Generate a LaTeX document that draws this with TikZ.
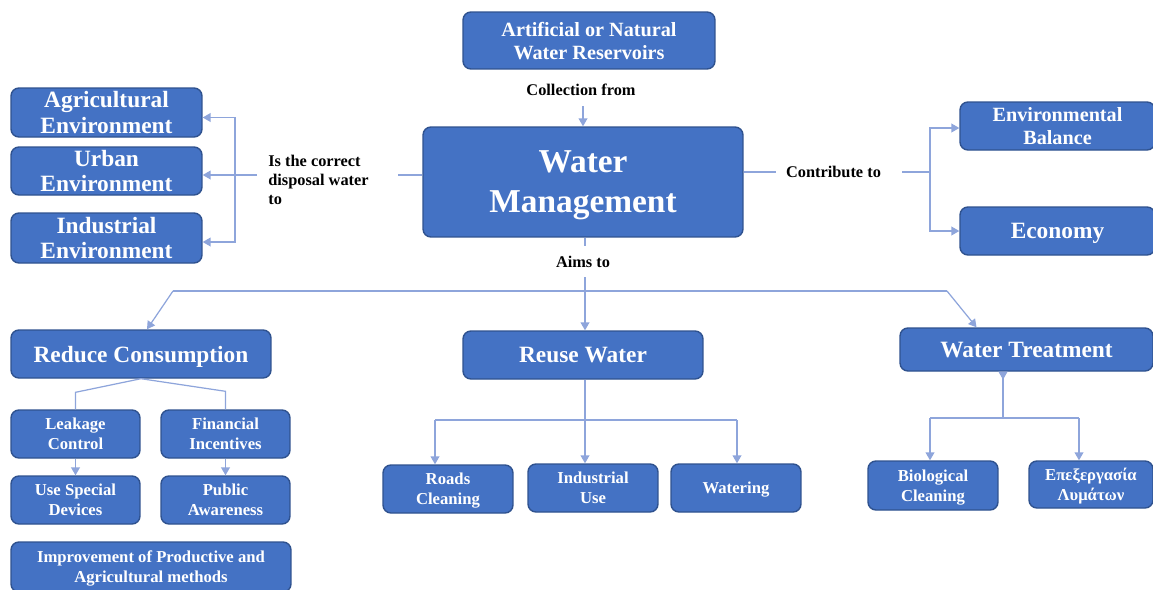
\documentclass[tikz,border=0pt]{standalone}
\usepackage{fontspec}
\setmainfont{Liberation Serif}
\usetikzlibrary{arrows.meta,positioning}
\definecolor{boxblue}{HTML}{4472C4}
\definecolor{boxline}{HTML}{2F528F}
\definecolor{linkblue}{HTML}{8EA5DB}
\tikzset{
    %Define standard arrow tip
    >={Triangle[width=5pt,length=4.5pt]},
    %Define style for boxes
    box/.style={
           rectangle,
           rounded corners=4.5pt,
           draw=boxline, line width=0.8pt,
           fill=boxblue,
           text=white,
           text depth=0pt,
           align=center,
           inner sep=0pt},
    bigbox/.style={
           box,
           font=\fontsize{13.3}{14.5}\selectfont\bfseries},
    midbox/.style={
           box,
           font=\fontsize{11.5}{13.2}\selectfont\bfseries},
    smallbox/.style={
           box,
           minimum width=2.6cm,
           minimum height=0.96cm,
           font=\fontsize{9.5}{11.3}\selectfont\bfseries},
    % Define style for the link texts
    lbl/.style={
           font=\fontsize{9.3}{11}\selectfont\bfseries,
           align=left,
           inner sep=0pt},
    % Define arrow style
    conn/.style={
           draw=linkblue,
           line width=0.7pt},
    arr/.style={
           conn, ->}
}
\begin{document}
\begin{tikzpicture}[x=0.02cm,y=-0.02cm]
\useasboundingbox (0,0) rectangle (1153,589);
% top
\node[midbox, minimum width=5.04cm, minimum height=1.14cm](res) at (589,40.5){Artificial or Natural\\Water Reservoirs};
\node[lbl](collect) at (581,90){Collection from};
\node[box, font=\fontsize{19}{22.7}\selectfont\bfseries, minimum width=6.4cm, minimum height=2.2cm](wm) at (583,182){Water\\Management};
\draw[arr] ([yshift=-0.2cm]collect.south -| wm.north) -- (wm.north);
% left
\node[bigbox, minimum width=3.82cm, minimum height=0.98cm](agri) at (106.5,112.5){Agricultural\\Environment};
\node[bigbox, minimum width=3.82cm, minimum height=0.96cm](urban) at (106.5,171){Urban\\Environment};
\node[bigbox, minimum width=3.82cm, minimum height=1cm](indus) at (106.5,238){Industrial\\Environment};
\node[lbl, anchor=west](disp) at (268,180){Is the correct\\disposal water\\to};
\coordinate (dr) at (398,175);
\coordinate (dl) at (257,175);
\coordinate (bl) at (235,175);
\draw[conn] (wm.west |- dr) -- (dr);
\draw[conn] (dl) -- (bl);
\draw[arr] (bl) |- ([yshift=-0.1cm]agri.east);
\draw[arr] (bl) -- (bl -| urban.east);
\draw[arr] (bl) |- ([yshift=-0.08cm]indus.east);
% right
\node[lbl](contrib) at (833.5,172){Contribute to};
\node[midbox, minimum width=3.9cm, minimum height=0.96cm](envbal) at (1057.5,126){Environmental\\Balance};
\node[bigbox, minimum width=3.9cm, minimum height=0.96cm](econ) at (1057.5,231){Economy};
\coordinate (cl) at (776,172);
\coordinate (cm) at (902,172);
\coordinate (cr) at (930,172);
\draw[conn] (wm.east |- cl) -- (cl);
\draw[conn] (cm) -- (cr);
\draw[arr] (cr) |- ([yshift=-0.04cm]envbal.west);
\draw[arr] (cr) |- (econ.west);
% aims
\node[lbl](aims) at (583,262){Aims to};
\node[bigbox, minimum width=5.2cm, minimum height=0.96cm](reduce) at (141,354){Reduce Consumption};
\node[bigbox, minimum width=4.8cm, minimum height=0.96cm](reuse) at (583,355){Reuse Water};
\node[bigbox, minimum width=5.06cm, minimum height=0.86cm](treat) at (1026.5,349.5){Water Treatment};
\coordinate (at) at (585,246);
\coordinate (ab) at (585,277);
\coordinate (hl) at (173,291);
\coordinate (hr) at (947,291);
\draw[conn] (wm.south -| at) -- (at);
\draw[arr] (ab) -- (ab |- reuse.north);
\draw[conn] (hl) -- (hr);
\draw[arr] (hl) -- ([xshift=0.12cm]reduce.north);
\draw[arr] (hr) -- ([xshift=-1cm]treat.north);
% reduce consumption
\node[smallbox, minimum width=2.58cm](leak) at (75.5,434){Leakage\\Control};
\node[smallbox, minimum width=2.58cm](finan) at (225.5,434){Financial\\Incentives};
\node[smallbox, minimum width=2.58cm](special) at (75.5,500){Use Special\\Devices};
\node[smallbox, minimum width=2.58cm](public) at (225.5,500){Public\\Awareness};
\node[smallbox, minimum width=5.6cm, minimum height=1cm](improve) at (151,567){Improvement of Productive and\\Agricultural methods};
\draw[conn] (reduce.south) -- ([yshift=0.34cm]leak.north) -- (leak.north);
\draw[conn] (reduce.south) -- ([yshift=0.36cm]finan.north) -- (finan.north);
\draw[arr] (leak) -- (special);
\draw[arr] (finan) -- (public);
% reuse water
\node[smallbox](roads) at (448,489){Roads\\Cleaning};
\node[smallbox](induse) at (593,488){Industrial\\Use};
\node[smallbox](watering) at (736,488){Watering};
\coordinate (rl) at (435,420);
\coordinate (rr) at (737,420);
\draw[arr] (ab |- reuse.south) -- (ab |- induse.north);
\draw[conn] (rl) -- (rr);
\draw[arr] (rl) -- (rl |- roads.north);
\draw[arr] (rr) -- (rr |- watering.north);
% water treatment
\node[smallbox, minimum height=0.98cm](bio) at (933,485.5){Biological\\Cleaning};
\node[smallbox, minimum width=2.48cm, minimum height=0.94cm](greek) at (1091,484.5){Επεξεργασία\\Λυμάτων};
\coordinate (tb) at (1003,418);
\coordinate (tl) at (930,418);
\coordinate (tr) at (1079,418);
\draw[conn, {Triangle[reversed,width=5pt,length=4.5pt]}-] (tb |- treat.south) -- (tb);
\draw[conn] (tl) -- (tr);
\draw[arr] (tl) -- (tl |- bio.north);
\draw[arr] (tr) -- (tr |- greek.north);
\end{tikzpicture}
\end{document}
